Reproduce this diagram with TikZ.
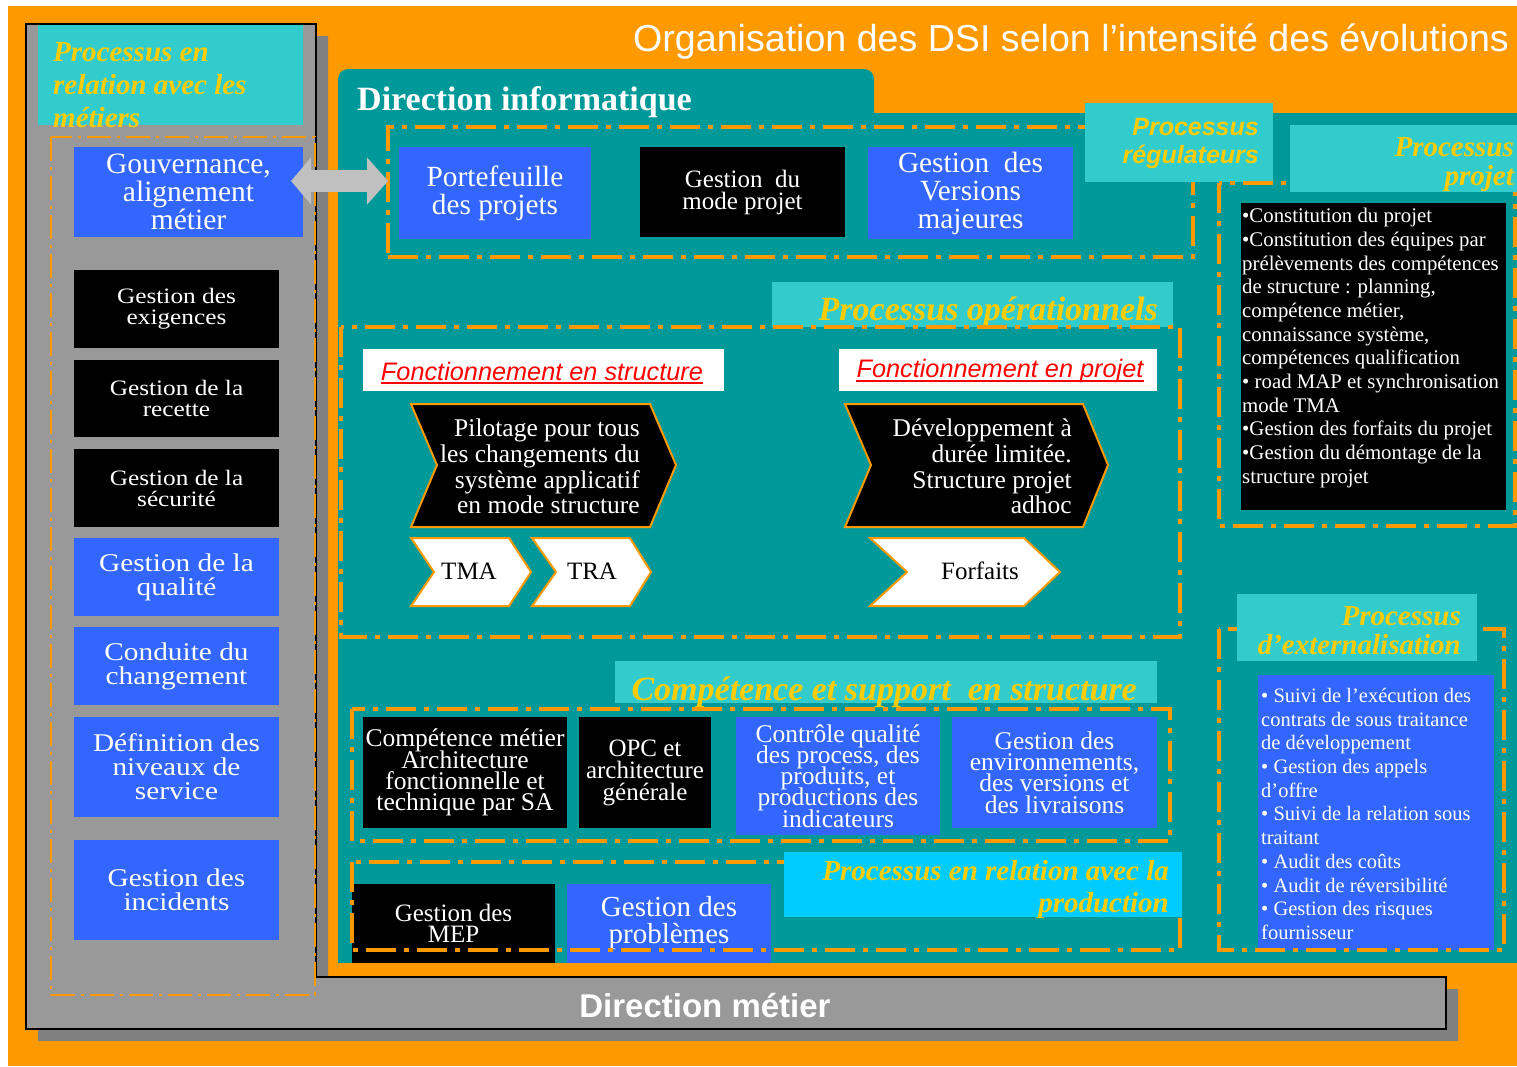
\documentclass[tikz,border=0pt]{standalone}
\usepackage{fontspec}
\setmainfont{Liberation Serif}
\newfontfamily\wideserif[FakeStretch=1.15]{Liberation Serif}
\newfontfamily\arial{Liberation Sans}
\usetikzlibrary{fit,arrows.meta}

\definecolor{orng}{HTML}{FF9900}
\definecolor{teal}{HTML}{009999}
\definecolor{cyanlab}{HTML}{33CCCC}
\definecolor{skylab}{HTML}{00CCFF}
\definecolor{yel}{HTML}{FFCC00}
\definecolor{bluebx}{HTML}{3366FF}
\definecolor{grayA}{HTML}{999999}
\definecolor{grayB}{HTML}{808080}
\definecolor{grayC}{HTML}{C0C0C0}

% size and fixed leading (tight lines keep their baseline distance)
\newcommand\fsz[2]{\fontsize{#1}{#2}\selectfont\lineskiplimit=-100pt\relax}
% plain rectangle given by its two corners
\newcommand\rbox[6]{\node[#2, fit={(#3,#4) (#5,#6)}, inner sep=0pt] (#1) {};}
% rectangle with centred text (text node #1-t sits on the box centre)
\newcommand\tbox[8]{\node[#2, fit={(#3,#4) (#5,#6)}, inner sep=0pt] (#1) {};
  \node[#7, inner sep=0pt] (#1-t) at (#1.center) {#8};}

\tikzset{
  dd/.style={draw=orng, line width=4pt, dash pattern=on 30pt off 8pt on 5pt off 8pt},
  ddthin/.style={draw=orng, line width=2.5pt, dash pattern=on 24pt off 6pt on 3pt off 6pt},
  blk/.style={fill=black},
  blu/.style={fill=bluebx},
  wt/.style={text=white, align=center},
  lab/.style={fill=cyanlab},
  labtxt/.style={text=yel, align=right, inner sep=0pt, anchor=east},
  chev/.style={draw=orng, line width=2pt, line join=miter},
  plain/.style={inner sep=0pt},
  leftcol/.style={wt, font={\wideserif\fsz{22}{21}}},
  leftcolB/.style={wt, font={\wideserif\fsz{25.5}{24}}},
  dblarrow/.style={draw=grayC, line width=22pt,
    {Triangle[length=20pt,width=46pt]}-{Triangle[length=21pt,width=46pt]}},
}

\begin{document}
\begin{tikzpicture}[x=1pt,y=-1pt]
\useasboundingbox (0,0) rectangle (1517,1066);
\fill[white] (0,0) rectangle (1517,1066);
\fill[orng] (8,6) rectangle (1517,1066);

% business frame (L shape) with its shadow
\fill[grayB] (38,36) -- (328,36) -- (328,989) -- (1458,989) -- (1458,1041) -- (38,1041) -- cycle;
\filldraw[fill=grayA, draw=black, line width=2pt]
  (26,24) -- (316,24) -- (316,977) -- (1446,977) -- (1446,1029) -- (26,1029) -- cycle;
\node[text=white, font={\arial\bfseries\fsz{33}{33}}] (dmetier) at (705,1006) {Direction métier};

% IT department area
\fill[teal, rounded corners=10pt] (338,69) rectangle (874,135);
\fill[teal] (338,113) rectangle (1517,963);
\node[plain, anchor=west, text=white, font={\bfseries\fsz{34}{34}}] (dinfo) at (357,102) {Direction informatique};

% title
\node[plain, anchor=west, text=white, font={\arial\fsz{37.6}{38}}] (title) at (633,42)
  {Organisation des DSI selon l’intensité des évolutions};

% ---------- business column ----------
\rbox{labmet}{lab}{38}{25}{303}{125}
\node[plain, anchor=west, align=left, text=yel, font={\bfseries\itshape\fsz{29}{33}}] (labmettxt) at (53,85)
  {Processus en\\ relation avec les\\ métiers};
\draw[ddthin] (51,137) rectangle (315,995);
\tbox{gov}{blu}{74}{147}{303}{237}{wt, font={\fsz{29.5}{28}}}{Gouvernance,\\ alignement\\ métier}
\tbox{exig}{blk}{74}{270}{279}{348}{leftcol}{Gestion des\\ exigences}
\tbox{rec}{blk}{74}{360}{279}{437}{leftcol}{Gestion de la\\ recette}
\tbox{secu}{blk}{74}{449}{279}{527}{leftcol}{Gestion de la\\ sécurité}
\tbox{qual}{blu}{74}{538}{279}{616}{leftcolB}{Gestion de la\\ qualité}
\tbox{cond}{blu}{74}{627}{279}{705}{leftcolB}{Conduite du\\ changement}
\tbox{defn}{blu}{74}{717}{279}{817}{leftcolB}{Définition des\\ niveaux de\\ service}
\tbox{incid}{blu}{74}{840}{279}{940}{leftcolB}{Gestion des\\ incidents}

% ---------- regulating processes ----------
\node[dd, fit={(388,127) (1193,257)}, inner sep=0pt] (reg) {};
\tbox{port}{blu}{399}{147}{591}{239}{wt, font={\fsz{29.3}{28}}}{Portefeuille\\ des projets}
\tbox{mode}{blk}{640}{147}{845}{237}{wt, font={\fsz{25}{22}}}{Gestion\ \ du\\ mode projet}
\tbox{vers}{blu}{868}{147}{1073}{239}{wt, font={\fsz{29.3}{28}}}{Gestion\ \ des\\ Versions\\ majeures}
\rbox{labreg}{lab}{1085}{103}{1273}{182}
\node[labtxt, font={\arial\bfseries\itshape\fsz{25}{28}}] (labregtxt) at (1259,143) {Processus\\ régulateurs};

\coordinate (arrL) at (291,181);
\coordinate (arrR) at (388,181);
\draw[dblarrow] (arrL) -- (arrR);

% ---------- project processes ----------
\draw[dd] (1219,183) rectangle (1515,526);
\rbox{labproj}{lab}{1290}{125}{1517}{192}
\node[labtxt, font={\bfseries\itshape\fsz{29}{29}}] (labprojtxt) at (1514,165) {Processus\\ projet};
\rbox{projbox}{fill=black}{1241}{203}{1506}{510}
\node[plain, anchor=north west, align=left, text=white, font={\fsz{20.8}{23.7}}] (projtxt) at (1242,208)
  {•Constitution du projet\\
   •Constitution des équipes par\\
   prélèvements des compétences\\
   de structure : planning,\\
   compétence métier,\\
   connaissance système,\\
   compétences qualification\\
   • road MAP et synchronisation\\
   mode TMA\\
   •Gestion des forfaits du projet\\
   •Gestion du démontage de la\\
   structure projet};

% ---------- operational processes ----------
\rbox{labop}{lab}{772}{282}{1173}{327}
\node[labtxt, font={\bfseries\itshape\fsz{34}{34}}] (laboptxt) at (1158,312) {Processus opérationnels};
\draw[dd] (341,327) rectangle (1180,637);

\rbox{fstruct}{fill=white}{363}{349}{724}{391}
\node[plain, text=red, font={\arial\itshape\fsz{25.3}{25}}] (fstructtxt) at (542,371) {Fonctionnement en structure};
\draw[red, line width=2pt] ([yshift=-3pt]fstructtxt.base west) -- ([yshift=-3pt]fstructtxt.base east);
\rbox{fproj}{fill=white}{839}{349}{1157}{391}
\node[plain, text=red, font={\arial\itshape\fsz{25.3}{25}}] (fprojtxt) at (1000,371) {Fonctionnement en projet};
\draw[red, line width=2pt] ([yshift=-3pt]fprojtxt.base west) -- ([yshift=-3pt]fprojtxt.base east);

\filldraw[chev, fill=black] (411,404) -- (650,404) -- (676,465) -- (650,527) -- (411,527) -- (437,465) -- cycle;
\node[plain, anchor=east, align=right, text=white, font={\fsz{25.5}{25.7}}] (pilot) at (640,466.5)
  {Pilotage pour tous\\ les changements du\\ système applicatif\\ en mode structure};
\filldraw[chev, fill=black] (845,404) -- (1083,404) -- (1108,465) -- (1083,527) -- (845,527) -- (871,465) -- cycle;
\node[plain, anchor=east, align=right, text=white, font={\fsz{25.5}{25.7}}] (dev) at (1072,466.5)
  {Développement à\\ durée limitée.\\ Structure projet\\ adhoc};

\filldraw[chev, fill=white] (411,538) -- (509,538) -- (531,572) -- (509,606) -- (411,606) -- (434,572) -- cycle;
\node[font={\fsz{25}{25}}] (tma) at (469,571) {TMA};
\filldraw[chev, fill=white] (532,538) -- (630,538) -- (651,572) -- (630,606) -- (532,606) -- (556,572) -- cycle;
\node[font={\fsz{25}{25}}] (tra) at (592,571) {TRA};
\filldraw[chev, fill=white] (870,538) -- (1024,538) -- (1060,572) -- (1024,606) -- (870,606) -- (907,572) -- cycle;
\node[font={\fsz{25}{25}}] (forf) at (980,571) {Forfaits};

% ---------- competence and support ----------
\rbox{labcomp}{lab}{615}{661}{1157}{703}
\node[labtxt, font={\bfseries\itshape\fsz{34}{34}}] (labcomptxt) at (1137,692) {Compétence et support\ \ en structure};
\draw[dd] (352,709) rectangle (1170,841);
\tbox{cmet}{blk}{363}{717}{567}{828}{wt, font={\fsz{25.5}{21.3}}}{Compétence métier\\ Architecture\\ fonctionnelle et\\ technique par SA}
\tbox{opc}{blk}{579}{717}{711}{828}{wt, font={\fsz{25}{22}}}{OPC et\\ architecture\\ générale}
\tbox{ctrl}{blu}{736}{717}{940}{835}{wt, font={\fsz{25.5}{21.2}}}{Contrôle qualité\\ des process, des\\ produits, et\\ productions des\\ indicateurs}
\tbox{genv}{blu}{952}{717}{1157}{828}{wt, font={\fsz{25.5}{21.3}}}{Gestion des\\ environnements,\\ des versions et\\ des livraisons}

% ---------- production ----------
\tbox{mep}{blk}{352}{884}{555}{963}{wt, font={\fsz{25}{21}}}{Gestion des\\ MEP}
\tbox{prob}{blu}{567}{884}{771}{963}{wt, font={\fsz{29}{27}}}{Gestion des\\ problèmes}
\draw[dd] (352,862) rectangle (1180,950);
\rbox{labprod}{fill=skylab}{784}{852}{1182}{917}
\node[labtxt, font={\bfseries\itshape\fsz{29}{32}}] (labprodtxt) at (1169,890) {Processus en relation avec la\\ production};

% ---------- outsourcing ----------
\rbox{extbox}{fill=bluebx}{1258}{675}{1494}{950}
\draw[dd] (1219,629) rectangle (1504,950);
\rbox{labext}{lab}{1237}{594}{1477}{661}
\node[labtxt, font={\bfseries\itshape\fsz{29}{29}}] (labexttxt) at (1461,631) {Processus\\ d’externalisation};
\node[plain, anchor=north west, align=left, text=white, font={\fsz{20.5}{23.7}}] (exttxt) at (1261,688)
  {• Suivi de l’exécution des\\
   contrats de sous traitance\\
   de développement\\
   • Gestion des appels\\
   d’offre\\
   • Suivi de la relation sous\\
   traitant\\
   • Audit des coûts\\
   • Audit de réversibilité\\
   • Gestion des risques\\
   fournisseur};
\end{tikzpicture}
\end{document}
